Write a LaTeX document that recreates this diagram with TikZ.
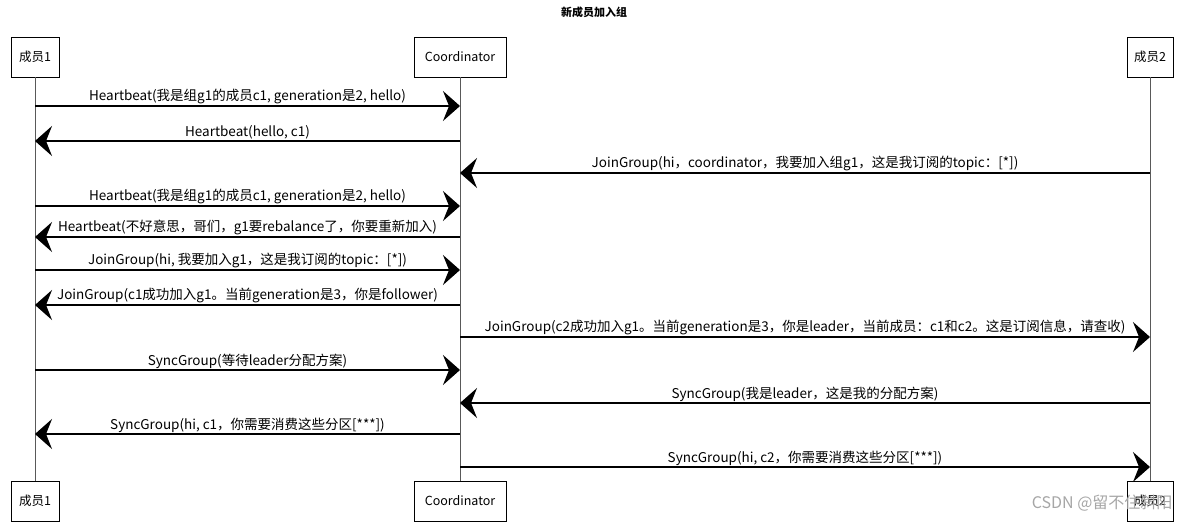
\documentclass[tikz,border=0pt]{standalone}
\usepackage{fontspec}
\setmainfont{Noto Sans CJK SC}
\usetikzlibrary{arrows.meta,positioning,calc}
\tikzset{
    actor style/.style={draw=black,thin,fill=white,minimum width=#1,minimum height=40pt,inner sep=0pt,font=\fontsize{12.5}{14}\selectfont},
    lifeline/.style={black!65,thin},
    msg/.style={-{Stealth[length=17pt,width=30pt,inset=6pt]},line width=1.3pt},
    msg label/.style={above=0pt,inner sep=1pt,font=\fontsize{13.5}{15}\selectfont},
    water mark/.style={black!35,font=\fontsize{16}{18}\selectfont},
}

\begin{document}
\begin{tikzpicture}[x=1pt,y=-1pt]
    \useasboundingbox (0,0) rectangle (1188,524);
    \node[font=\fontsize{11}{13}\selectfont\bfseries] (title) at (594,12) {新成员加入组};

    % actors, top and bottom
    \node[actor style=48pt] (m1top) at (35,57) {成员1};
    \node[actor style=92pt] (cotop) at (460,57) {Coordinator};
    \node[actor style=46pt] (m2top) at (1150,57) {成员2};
    \node[actor style=48pt] (m1bot) at (35,501) {成员1};
    \node[actor style=92pt] (cobot) at (460,501) {Coordinator};
    \node[actor style=46pt] (m2bot) at (1150,501) {成员2};

    \draw[lifeline] (m1top) -- (m1bot);
    \draw[lifeline] (cotop) -- (cobot);
    \draw[lifeline] (m2top) -- (m2bot);

    % message rows
    \coordinate (r1) at (0,106);
    \coordinate (r2) at (0,141);
    \coordinate (r3) at (0,173);
    \coordinate (r4) at (0,206);
    \coordinate (r5) at (0,237);
    \coordinate (r6) at (0,270);
    \coordinate (r7) at (0,305);
    \coordinate (r8) at (0,337);
    \coordinate (r9) at (0,370);
    \coordinate (r10) at (0,403);
    \coordinate (r11) at (0,434);
    \coordinate (r12) at (0,467);

    \draw[msg] (m1top |- r1) -- node[msg label] {Heartbeat(我是组g1的成员c1, generation是2, hello)} (cotop |- r1);
    \draw[msg] (cotop |- r2) -- node[msg label] {Heartbeat(hello, c1)} (m1top |- r2);
    \draw[msg] (m2top |- r3) -- node[msg label] {JoinGroup(hi，coordinator，我要加入组g1，这是我订阅的topic：[*])} (cotop |- r3);
    \draw[msg] (m1top |- r4) -- node[msg label] {Heartbeat(我是组g1的成员c1, generation是2, hello)} (cotop |- r4);
    \draw[msg] (cotop |- r5) -- node[msg label] {Heartbeat(不好意思，哥们，g1要rebalance了，你要重新加入)} (m1top |- r5);
    \draw[msg] (m1top |- r6) -- node[msg label] {JoinGroup(hi, 我要加入g1，这是我订阅的topic：[*])} (cotop |- r6);
    \draw[msg] (cotop |- r7) -- node[msg label] {JoinGroup(c1成功加入g1。当前generation是3，你是follower)} (m1top |- r7);
    \draw[msg] (cotop |- r8) -- node[msg label] {JoinGroup(c2成功加入g1。当前generation是3，你是leader，当前成员：c1和c2。这是订阅信息，请查收)} (m2top |- r8);
    \draw[msg] (m1top |- r9) -- node[msg label] {SyncGroup(等待leader分配方案)} (cotop |- r9);
    \draw[msg] (m2top |- r10) -- node[msg label] {SyncGroup(我是leader，这是我的分配方案)} (cotop |- r10);
    \draw[msg] (cotop |- r11) -- node[msg label] {SyncGroup(hi, c1，你需要消费这些分区[***])} (m1top |- r11);
    \draw[msg] (cotop |- r12) -- node[msg label] {SyncGroup(hi, c2，你需要消费这些分区[***])} (m2top |- r12);

    \node[water mark,anchor=east] (mark) at (1176,503) {CSDN @留不住斜阳};
\end{tikzpicture}
\end{document}
